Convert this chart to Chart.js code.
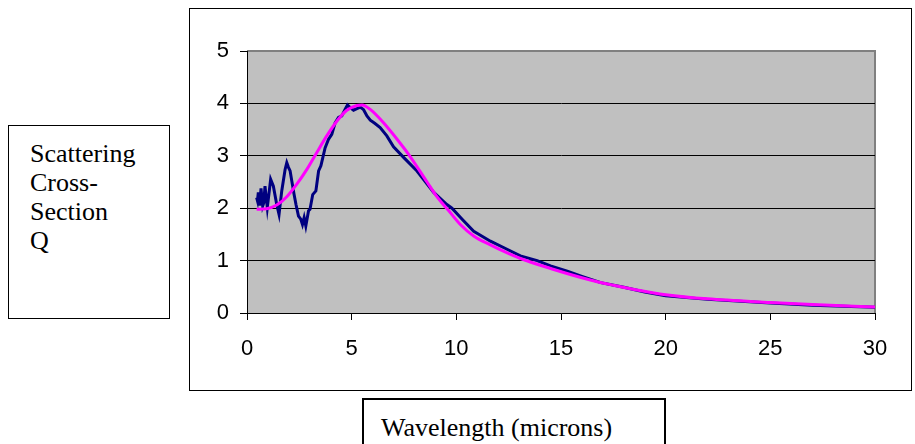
<!DOCTYPE html>
<html>
<head>
<meta charset="utf-8">
<script src="https://cdn.jsdelivr.net/npm/chart.js@4/dist/chart.umd.min.js"></script>
<style>
  body { margin: 0; width: 915px; height: 444px; background: #fff; position: relative; overflow: hidden; }
  .box { position: absolute; border: 1px solid #000; box-sizing: border-box; background: #fff; }
  #chartBox { left: 189px; top: 8px; width: 723px; height: 383px; }
  #chartBox canvas { position: absolute; left: 0; top: 0; }
  #yTitle { left: 8px; top: 125px; width: 162px; height: 194px; font: 26px "Liberation Serif", "Times New Roman", serif; line-height: 29px; padding: 13px 0 0 21px; }
  #xTitle { left: 362px; top: 398px; width: 304px; height: 80px; font: 26px "Liberation Serif", "Times New Roman", serif; line-height: 28px; padding: 14px 0 0 17px; border-width: 2px; }
</style>
</head>
<body>
<div class="box" id="chartBox"><canvas id="scatterChart" width="721" height="381"></canvas></div>
<div class="box" id="yTitle">Scattering<br>Cross-<br>Section<br>Q</div>
<div class="box" id="xTitle">Wavelength (microns)</div>

<script>
// measured curve (navy)
var blueX = [0.46, 0.5, 0.54, 0.6, 0.67, 0.75, 0.8, 0.86, 0.97, 1.13, 1.26, 1.42, 1.53, 1.66, 1.82, 1.90, 1.98, 2.06, 2.14, 2.25, 2.34, 2.46, 2.57, 2.65, 2.73, 2.81, 2.94, 3.01, 3.14, 3.29, 3.42, 3.53, 3.73, 3.89, 4.05, 4.21, 4.37, 4.53, 4.69, 4.80, 4.93, 5.09, 5.25, 5.41, 5.57, 5.73, 5.89, 6.1, 6.36, 6.68, 7.0, 7.48, 8.12, 8.92, 9.55, 9.79, 10.3, 10.83, 11.63, 12.3, 13.06, 13.86, 14.5, 15.3, 16.0, 16.9, 18.0, 19.0, 20, 22, 25, 27, 30];
var blueY = [2.20, 2.14, 2.30, 2.05, 2.38, 2.04, 2.10, 2.42, 2.01, 2.55, 2.42, 2.07, 1.88, 2.33, 2.74, 2.87, 2.78, 2.71, 2.52, 2.26, 2.07, 1.85, 1.79, 1.69, 1.82, 1.66, 1.95, 1.98, 2.26, 2.33, 2.71, 2.81, 3.15, 3.31, 3.41, 3.63, 3.73, 3.76, 3.89, 3.97, 3.92, 3.87, 3.90, 3.93, 3.88, 3.76, 3.68, 3.62, 3.54, 3.38, 3.17, 2.97, 2.71, 2.30, 2.07, 2.0, 1.78, 1.56, 1.37, 1.24, 1.09, 1.0, 0.90, 0.80, 0.70, 0.58, 0.49, 0.40, 0.33, 0.26, 0.19, 0.15, 0.11];

// fitted curve (magenta)
var pinkX = [0.46, 0.94, 1.42, 1.9, 2.38, 2.86, 3.33, 3.81, 4.29, 4.77, 5.25, 5.5, 5.9, 6.5, 7.3, 7.77, 8.6, 9.0, 9.4, 9.6, 10.19, 10.83, 11.63, 12.3, 13.06, 14.5, 16.4, 17.5, 18.5, 20, 22, 25, 27, 30];
var pinkY = [1.98, 1.99, 2.06, 2.22, 2.46, 2.74, 3.06, 3.38, 3.66, 3.87, 3.96, 3.97, 3.88, 3.64, 3.25, 3.0, 2.5, 2.26, 2.06, 1.97, 1.69, 1.47, 1.30, 1.17, 1.04, 0.85, 0.63, 0.53, 0.45, 0.35, 0.27, 0.20, 0.16, 0.115];

var xTicks = [0, 5, 10, 15, 20, 25, 30];
var yTicks = [0, 1, 2, 3, 4, 5];

function toPoints(xs, ys) {
  var pts = [];
  for (var i = 0; i < xs.length; i++) {
    pts.push({ x: xs[i], y: ys[i] });
  }
  return pts;
}

// grey plot area with grey top/right frame
const plotBg = {
  id: 'plotBg',
  beforeDraw(chart) {
    const a = chart.chartArea;
    const c = chart.ctx;
    c.save();
    c.fillStyle = '#C0C0C0';
    c.fillRect(a.left, a.top, a.right - a.left, a.bottom - a.top);
    c.strokeStyle = '#808080';
    c.lineWidth = 2;
    c.beginPath();
    c.moveTo(a.left, a.top);
    c.lineTo(a.right, a.top);
    c.lineTo(a.right, a.bottom);
    c.stroke();
    c.restore();
  }
};

var config = {
  type: 'scatter',
  data: {
    datasets: [
      {
        label: 'Q fit',
        data: toPoints(pinkX, pinkY),
        showLine: true,
        borderColor: '#FF00FF',
        backgroundColor: '#FF00FF',
        borderWidth: 3,
        pointRadius: 0,
        cubicInterpolationMode: 'monotone',
        order: 0
      },
      {
        label: 'Q',
        data: toPoints(blueX, blueY),
        showLine: true,
        borderColor: '#000080',
        backgroundColor: '#000080',
        borderWidth: 3,
        pointRadius: 0,
        tension: 0,
        order: 1
      }
    ]
  },
  options: {
    responsive: false,
    animation: false,
    events: [],
    layout: { padding: { left: 0, right: 36, top: 42, bottom: 0 } },
    plugins: {
      legend: { display: false },
      tooltip: { enabled: false }
    },
    scales: {
      x: {
        type: 'linear',
        min: 0,
        max: 30,
        afterBuildTicks: function (s) { s.ticks = xTicks.map(function (v) { return { value: v }; }); },
        afterFit: function (s) { s.height = 77; },
        grid: { drawOnChartArea: false, color: '#000', tickLength: 7 },
        border: { color: '#000', width: 1 },
        ticks: { color: '#000', padding: 16, maxRotation: 0, font: { family: 'Liberation Sans', size: 22 } }
      },
      y: {
        type: 'linear',
        min: 0,
        max: 5,
        afterBuildTicks: function (s) { s.ticks = yTicks.map(function (v) { return { value: v }; }); },
        afterFit: function (s) { s.width = 57; },
        grid: {
          color: function (ctx) { return ctx.tick && ctx.tick.value === 5 ? '#808080' : '#000'; },
          tickColor: '#000',
          tickLength: 7
        },
        border: { color: '#000', width: 1 },
        ticks: { color: '#000', padding: 11, font: { family: 'Liberation Sans', size: 22 } }
      }
    }
  },
  plugins: [plotBg]
};

new Chart(document.getElementById('scatterChart'), config);
</script>
</body>
</html>
